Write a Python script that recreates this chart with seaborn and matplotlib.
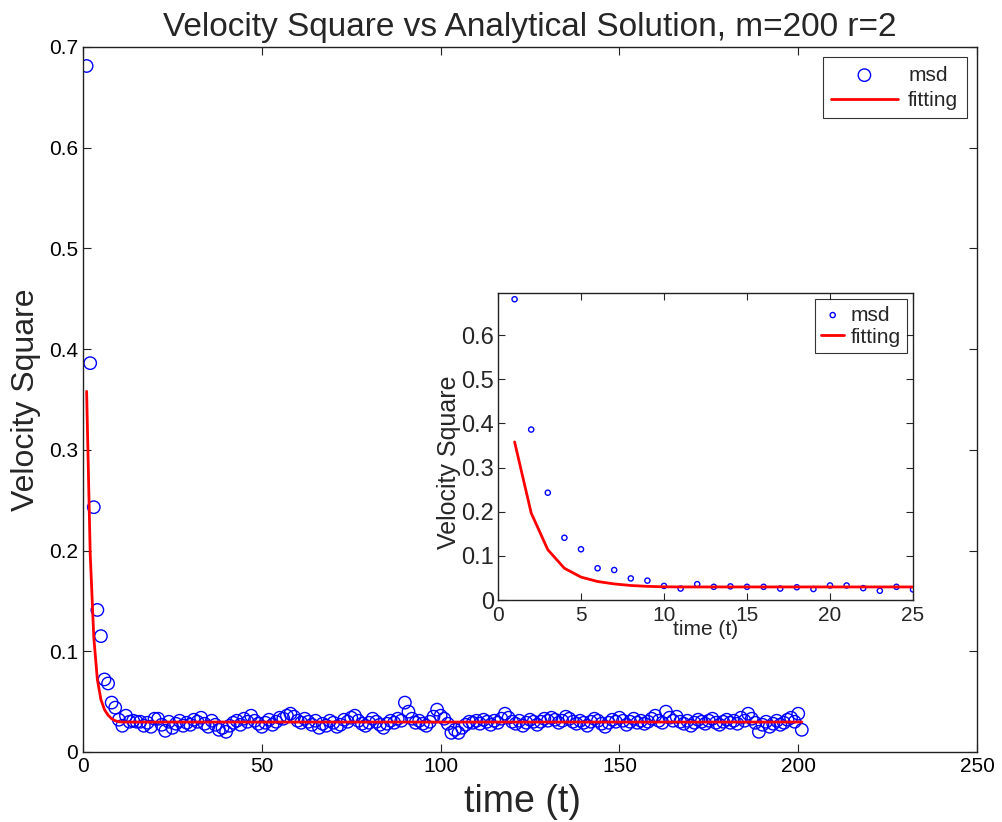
import numpy as np
import pandas as pd
import matplotlib
matplotlib.use("Agg")
import matplotlib.pyplot as plt
import seaborn as sns

# ---- data ----
msd = [
    0.681, 0.386, 0.243, 0.141, 0.115, 0.072, 0.068, 0.049, 0.044, 0.032,
    0.026, 0.036, 0.030, 0.031, 0.030, 0.030, 0.026, 0.029, 0.025, 0.033,
    0.033, 0.027, 0.021, 0.030, 0.024, 0.028, 0.031, 0.026, 0.029, 0.027,
    0.032, 0.030, 0.034, 0.028, 0.025, 0.031, 0.027, 0.022, 0.024, 0.020,
    0.026, 0.029, 0.031, 0.027, 0.033, 0.030, 0.036, 0.031, 0.028, 0.025,
    0.029, 0.032, 0.027, 0.030, 0.034, 0.033, 0.036, 0.038, 0.035, 0.031,
    0.029, 0.033, 0.030, 0.027, 0.031, 0.024, 0.028, 0.026, 0.031, 0.029,
    0.025, 0.027, 0.032, 0.030, 0.034, 0.036, 0.031, 0.028, 0.026, 0.029,
    0.033, 0.030, 0.027, 0.024, 0.028, 0.031, 0.029, 0.033, 0.031, 0.049,
    0.040, 0.033, 0.029, 0.031, 0.028, 0.026, 0.030, 0.035, 0.042, 0.036,
    0.033, 0.028, 0.019, 0.022, 0.019, 0.024, 0.027, 0.030, 0.029, 0.031,
    0.028, 0.032, 0.030, 0.027, 0.031, 0.029, 0.033, 0.038, 0.034, 0.030,
    0.028, 0.031, 0.026, 0.029, 0.032, 0.030, 0.027, 0.030, 0.033, 0.031,
    0.034, 0.032, 0.029, 0.031, 0.035, 0.033, 0.030, 0.028, 0.031, 0.029,
    0.026, 0.030, 0.033, 0.031, 0.028, 0.025, 0.029, 0.032, 0.030, 0.034,
    0.031, 0.027, 0.030, 0.033, 0.029, 0.031, 0.028, 0.030, 0.033, 0.036,
    0.031, 0.029, 0.040, 0.034, 0.031, 0.035, 0.030, 0.028, 0.031, 0.026,
    0.029, 0.032, 0.030, 0.028, 0.031, 0.033, 0.029, 0.027, 0.030, 0.032,
    0.029, 0.031, 0.028, 0.034, 0.031, 0.038, 0.033, 0.029, 0.020, 0.027,
    0.030, 0.025, 0.028, 0.031, 0.027, 0.029, 0.032, 0.034, 0.030, 0.038,
    0.022,
]
fit_head = [0.358, 0.197, 0.114, 0.072, 0.052, 0.042, 0.0365, 0.033, 0.031, 0.030]
fit_tail_level = 0.0297
fitting = fit_head + [fit_tail_level] * (len(msd) - len(fit_head))
time = list(range(1, len(msd) + 1))

title = "Velocity Square vs Analytical Solution, m=200 r=2"
main_xticks = [0, 50, 100, 150, 200, 250]
main_yticks = [0, 0.1, 0.2, 0.3, 0.4, 0.5, 0.6, 0.7]
inset_n = 25
inset_xticks = [0, 5, 10, 15, 20, 25]
inset_yticks = [0, 0.1, 0.2, 0.3, 0.4, 0.5, 0.6]

df = pd.DataFrame({"time": time, "msd": msd, "fitting": fitting})
df_in = df[df["time"] <= inset_n]

sns.set_style("ticks")
plt.rcParams["font.family"] = ["Liberation Sans", "DejaVu Sans"]
plt.rcParams["xtick.direction"] = "in"
plt.rcParams["ytick.direction"] = "in"

fig = plt.figure(figsize=(10.03, 8.22), dpi=100)
ax = fig.add_axes([0.0828, 0.0852, 0.8913, 0.8578])

blue = "#0000ff"
red = "#ff0000"

sns.scatterplot(data=df, x="time", y="msd", ax=ax, marker="o", s=80,
                facecolors="none", edgecolor=blue, linewidth=1.0, label="msd", zorder=2)
sns.lineplot(data=df, x="time", y="fitting", ax=ax, color=red, linewidth=2.0,
             label="fitting", zorder=3)
ax.set_xlim(0, 250)
ax.set_ylim(0, 0.7)
ax.set_xticks(main_xticks)
ax.set_yticks(main_yticks)
ax.set_xticklabels([str(t) for t in main_xticks])
ax.set_yticklabels(["0"] + [f"{t:g}" for t in main_yticks[1:]])
ax.tick_params(labelsize=15, top=True, right=True, length=6, width=0.8, colors="#222222",
               labelcolor="black")
for s in ax.spines.values():
    s.set_linewidth(1.0)
    s.set_color("#222222")
ax.set_xlabel("time (t)", fontsize=27, labelpad=2)
ax.xaxis.set_label_coords(0.492, -0.045, transform=ax.transAxes)
ax.xaxis.label.set_verticalalignment("top")
ax.set_ylabel("Velocity Square", fontsize=23, labelpad=6)
ax.set_title(title, fontsize=24, pad=8)
leg = ax.legend(loc="upper right", fontsize=15, frameon=True, fancybox=False,
                edgecolor="black", borderaxespad=0.5, handlelength=3.2, handletextpad=0.5,
                borderpad=0.4, labelspacing=0.3)
leg.get_frame().set_linewidth(0.8)

# ---- inset ----
ax2 = fig.add_axes([0.4965, 0.2700, 0.4138, 0.3735])
sns.scatterplot(data=df_in, x="time", y="msd", ax=ax2, marker="o", s=14,
                facecolors="none", edgecolor=blue, linewidth=1.0, label="msd", zorder=2)
sns.lineplot(data=df_in, x="time", y="fitting", ax=ax2, color=red, linewidth=2.0,
             label="fitting", zorder=3)
ax2.set_xlim(0, 25)
ax2.set_ylim(0, 0.695)
ax2.set_xticks(inset_xticks)
ax2.set_yticks(inset_yticks)
ax2.set_yticklabels(["0"] + [f"{t:g}" for t in inset_yticks[1:]])
ax2.tick_params(axis="x", labelsize=15, top=True, length=5, width=0.8, pad=4)
ax2.tick_params(axis="y", labelsize=17, right=True, length=5, width=0.8, pad=3)
for s in ax2.spines.values():
    s.set_linewidth(1.0)
    s.set_color("#222222")
ax2.set_xlabel("time (t)", fontsize=15, labelpad=-3)
ax2.set_ylabel("Velocity Square", fontsize=18)
ax2.yaxis.set_label_coords(-0.09, 0.45, transform=ax2.transAxes)
leg2 = ax2.legend(loc="upper right", fontsize=15, frameon=True, fancybox=False,
                  edgecolor="black", borderaxespad=0.3, handlelength=1.1, handletextpad=0.3,
                  borderpad=0.3, labelspacing=0.15)
leg2.get_frame().set_linewidth(0.8)

fig.savefig("out.png", dpi=100, facecolor="white")
